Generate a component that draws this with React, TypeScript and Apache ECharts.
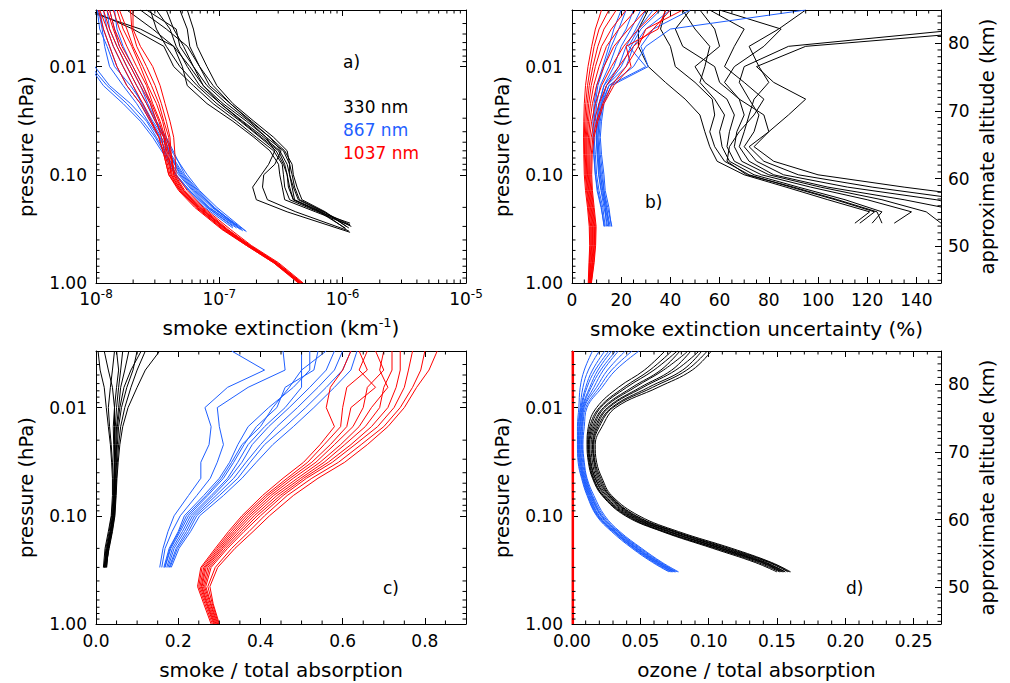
import React, { useEffect, useRef } from 'react';
import * as echarts from 'echarts';

const FONT = '"DejaVu Sans", "Liberation Sans", sans-serif';
const INK = '#000000';
const C330 = '#000000';
const C867 = '#1f5fff';
const C1037 = '#ff0000';

// ---------------- axis ranges & tick lists ----------------
const P_MIN = 0.003;
const P_MAX = 1.0;
const ALT_MIN = 44.6;
const ALT_MAX = 84.9;
const P_MINOR = [0.004, 0.005, 0.006, 0.007, 0.008, 0.009, 0.02, 0.03, 0.04, 0.05, 0.06, 0.07, 0.08, 0.09, 0.2, 0.3, 0.4, 0.5, 0.6, 0.7, 0.8, 0.9];
const EXT_MINOR = [2e-8, 3e-8, 4e-8, 5e-8, 6e-8, 7e-8, 8e-8, 9e-8, 2e-7, 3e-7, 4e-7, 5e-7, 6e-7, 7e-7, 8e-7, 9e-7, 2e-6, 3e-6, 4e-6, 5e-6, 6e-6, 7e-6, 8e-6, 9e-6];
const UNC_MINOR = [5, 10, 15, 25, 30, 35, 45, 50, 55, 65, 70, 75, 85, 90, 95, 105, 110, 115, 125, 130, 135, 145];
const RATIO_MINOR = [0.05, 0.1, 0.15, 0.25, 0.3, 0.35, 0.45, 0.5, 0.55, 0.65, 0.7, 0.75, 0.85];
const OZONE_MINOR = [0.01, 0.02, 0.03, 0.04, 0.06, 0.07, 0.08, 0.09, 0.11, 0.12, 0.13, 0.14, 0.16, 0.17, 0.18, 0.19, 0.21, 0.22, 0.23, 0.24, 0.26];
const ALT_MINOR = [45, 46, 47, 48, 49, 51, 52, 53, 54, 55, 56, 57, 58, 59, 61, 62, 63, 64, 65, 66, 67, 68, 69, 71, 72, 73, 74, 75, 76, 77, 78, 79, 81, 82, 83, 84];

// ---------------- panel a: smoke extinction, log10(km^-1) ----------------
const A_P330 = [0.003, 0.0045, 0.0065, 0.01, 0.015, 0.022, 0.032, 0.045, 0.06, 0.08, 0.1, 0.13, 0.17, 0.22, 0.3];
const A_330_PEND = [0.29, 0.28, 0.3, 0.29, 0.31, 0.3, 0.32, 0.34, 0.33, 0.31];
const A_330_LOG = [
  [-8.10, -7.64, -7.37, -7.30, -7.26, -7.10, -6.89, -6.72, -6.59, -6.52, -6.51, -6.49, -6.47, -6.22, -5.95],
  [-8.05, -7.70, -7.45, -7.37, -7.21, -7.05, -6.86, -6.70, -6.56, -6.49, -6.48, -6.47, -6.43, -6.20, -5.94],
  [-7.56, -7.51, -7.43, -7.32, -7.18, -7.02, -6.83, -6.67, -6.54, -6.48, -6.45, -6.44, -6.40, -6.18, -5.93],
  [-7.51, -7.40, -7.35, -7.26, -7.16, -6.99, -6.81, -6.64, -6.51, -6.45, -6.43, -6.40, -6.36, -6.16, -5.94],
  [-7.43, -7.37, -7.29, -7.21, -7.13, -6.97, -6.78, -6.62, -6.48, -6.43, -6.41, -6.39, -6.35, -6.15, -5.95],
  [-7.32, -7.26, -7.24, -7.16, -7.08, -6.91, -6.75, -6.59, -6.47, -6.41, -6.40, -6.37, -6.33, -6.14, -5.97],
  [-7.26, -7.21, -7.18, -7.10, -7.02, -6.89, -6.72, -6.56, -6.45, -6.43, -6.43, -6.41, -6.39, -6.17, -5.97],
  [-7.59, -7.35, -7.32, -7.21, -7.10, -6.94, -6.76, -6.62, -6.55, -6.60, -6.66, -6.73, -6.70, -6.45, -5.94],
  [-7.64, -7.43, -7.26, -7.16, -7.05, -6.91, -6.74, -6.59, -6.50, -6.55, -6.64, -6.65, -6.61, -6.38, -5.95],
  [-7.75, -7.54, -7.37, -7.24, -7.13, -6.99, -6.82, -6.66, -6.52, -6.47, -6.45, -6.43, -6.40, -6.19, -5.98],
];
const A_P867 = [0.003, 0.0045, 0.0065, 0.01, 0.015, 0.022, 0.032, 0.045, 0.065, 0.1, 0.14, 0.2, 0.32];
const A_867_PEND = [0.31, 0.32, 0.33, 0.32, 0.3, 0.29, 0.3, 0.31, 0.33, 0.335];
const A_867_LOG = [
  [-7.97, -7.94, -7.89, -7.83, -7.75, -7.64, -7.56, -7.48, -7.43, -7.35, -7.24, -7.10, -6.86],
  [-7.91, -7.89, -7.83, -7.75, -7.67, -7.59, -7.52, -7.45, -7.40, -7.32, -7.21, -7.08, -6.83],
  [-7.85, -7.83, -7.78, -7.70, -7.62, -7.56, -7.51, -7.43, -7.36, -7.28, -7.17, -7.04, -6.81],
  [-7.99, -7.97, -7.91, -7.85, -7.72, -7.62, -7.54, -7.45, -7.39, -7.29, -7.18, -7.05, -6.82],
  [-7.98, -7.95, -7.93, -7.89, -7.78, -7.67, -7.58, -7.49, -7.41, -7.31, -7.20, -7.06, -6.85],
  [-8.10, -8.08, -8.05, -8.01, -7.89, -7.72, -7.59, -7.51, -7.43, -7.33, -7.22, -7.09, -6.87],
  [-8.13, -8.10, -8.08, -8.04, -7.91, -7.75, -7.62, -7.52, -7.44, -7.35, -7.24, -7.10, -6.89],
  [-8.16, -8.13, -8.09, -8.05, -7.94, -7.78, -7.64, -7.54, -7.45, -7.36, -7.25, -7.12, -6.89],
  [-7.94, -7.91, -7.86, -7.78, -7.70, -7.63, -7.55, -7.47, -7.40, -7.30, -7.19, -7.05, -6.79],
  [-7.89, -7.85, -7.81, -7.72, -7.64, -7.58, -7.51, -7.44, -7.37, -7.26, -7.16, -7.02, -6.78],
];
const A_P1037 = [0.003, 0.0045, 0.0065, 0.01, 0.015, 0.022, 0.032, 0.045, 0.065, 0.1, 0.14, 0.2, 0.32, 0.45, 0.65, 1.0];
const A_1037_LOG = [
  [-7.97, -7.91, -7.86, -7.78, -7.70, -7.62, -7.55, -7.49, -7.45, -7.41, -7.33, -7.20, -6.98, -6.78, -6.56, -6.36],
  [-7.91, -7.86, -7.81, -7.72, -7.64, -7.56, -7.51, -7.47, -7.44, -7.40, -7.32, -7.18, -6.97, -6.77, -6.55, -6.35],
  [-7.86, -7.81, -7.75, -7.67, -7.59, -7.54, -7.48, -7.44, -7.41, -7.39, -7.31, -7.17, -6.95, -6.76, -6.55, -6.34],
  [-7.81, -7.75, -7.70, -7.62, -7.55, -7.49, -7.45, -7.41, -7.40, -7.37, -7.29, -7.16, -6.94, -6.76, -6.54, -6.34],
  [-7.72, -7.71, -7.67, -7.59, -7.52, -7.47, -7.43, -7.40, -7.39, -7.36, -7.28, -7.14, -6.93, -6.75, -6.53, -6.33],
  [-7.70, -7.70, -7.64, -7.54, -7.48, -7.44, -7.40, -7.37, -7.36, -7.35, -7.26, -7.13, -6.91, -6.74, -6.52, -6.32],
  [-7.98, -7.94, -7.89, -7.83, -7.75, -7.64, -7.56, -7.49, -7.45, -7.41, -7.32, -7.19, -6.97, -6.78, -6.56, -6.35],
  [-7.94, -7.89, -7.83, -7.75, -7.67, -7.59, -7.52, -7.45, -7.43, -7.39, -7.31, -7.18, -6.96, -6.77, -6.55, -6.35],
  [-7.89, -7.85, -7.79, -7.70, -7.62, -7.55, -7.49, -7.45, -7.42, -7.38, -7.30, -7.16, -6.95, -6.76, -6.54, -6.34],
  [-7.83, -7.78, -7.71, -7.64, -7.58, -7.51, -7.46, -7.43, -7.39, -7.37, -7.29, -7.15, -6.94, -6.75, -6.54, -6.33],
];

// ---------------- panel b: smoke extinction uncertainty (%) ----------------
const B_P330 = [0.003, 0.0045, 0.0065, 0.01, 0.014, 0.02, 0.028, 0.04, 0.055, 0.075, 0.1, 0.13, 0.17, 0.22, 0.28];
const B_330 = [
  [31, 27, 27, 31, 38, 46, 52, 54, 56, 59, 70, 87, 104, 121, 115],
  [38, 36, 40, 42, 50, 57, 58, 56, 58, 62, 72, 89, 107, 123, 117],
  [45, 50, 56, 54, 52, 58, 62, 60, 61, 64, 74, 92, 111, 126, 122],
  [52, 58, 60, 50, 54, 63, 66, 64, 63, 66, 77, 97, 120, 138, 131],
  [60, 85, 78, 66, 62, 68, 70, 67, 66, 69, 80, 101, 126, 144, 150],
  [95, 84, 72, 76, 80, 74, 72, 70, 68, 72, 82, 104, 135, 160, 170],
  [170, 180, 95, 75, 82, 95, 88, 80, 74, 82, 100, 135, 175, 200, 200],
  [180, 160, 88, 70, 68, 72, 76, 74, 70, 75, 86, 112, 148, 170, 180],
  [48, 42, 45, 58, 60, 68, 78, 80, 72, 78, 92, 122, 160, 180, 180],
  [56, 70, 66, 62, 70, 78, 74, 68, 64, 63, 71, 90, 108, 124, 126],
];
const B_P867 = [0.003, 0.0045, 0.0065, 0.01, 0.015, 0.022, 0.032, 0.045, 0.065, 0.1, 0.14, 0.2, 0.3];
const B_867 = [
  [95, 40, 30, 25, 15, 12, 11, 10.5, 11, 12, 13, 14, 15.5],
  [48, 33, 28, 31, 16, 13, 12, 11.5, 12, 13, 13.5, 15, 16],
  [30, 26, 22, 19, 13, 11, 10, 10, 10.5, 11, 12, 13.5, 14],
  [36, 28, 24, 20, 14, 12, 11, 10.5, 11, 11.5, 12.5, 14, 15],
  [25, 22, 18, 15, 11.5, 10, 9.5, 9, 9.5, 10, 11, 12.5, 13.5],
  [22, 19, 16, 13, 10.5, 9.5, 9, 8.8, 9, 9.5, 10.5, 12, 13],
  [40, 30, 25, 22, 14, 11.5, 10.5, 10, 10.5, 11.5, 12.5, 13.5, 15],
  [28, 24, 20, 17, 13, 11, 10.2, 9.8, 10.2, 10.8, 11.8, 13, 14.5],
  [33, 27, 23, 30, 15, 12.5, 11.5, 11, 11.5, 12.5, 13, 14.5, 16.2],
  [20, 17, 15, 12.5, 10, 9, 8.5, 8.5, 8.8, 9.5, 10.2, 11.8, 13.2],
];
const B_P1037 = [0.003, 0.0045, 0.0065, 0.01, 0.015, 0.022, 0.032, 0.045, 0.065, 0.1, 0.14, 0.2, 0.3, 0.45, 0.65, 1.0];
const B_1037 = [
  [12, 9.5, 8, 6.5, 5.5, 5, 4.8, 4.7, 4.8, 5, 5.5, 6.3, 7, 7.2, 6.9, 6.6],
  [15, 11, 9, 7.5, 6.3, 5.6, 5.2, 5, 5.1, 5.4, 5.9, 6.6, 7.3, 7.4, 7.1, 6.8],
  [18, 13, 10.5, 8.5, 7, 6.2, 5.7, 5.4, 5.4, 5.7, 6.2, 6.9, 7.6, 7.7, 7.3, 7.0],
  [22, 16, 12, 9.5, 7.8, 6.8, 6.2, 5.8, 5.8, 6.0, 6.5, 7.2, 8.0, 8.0, 7.6, 7.1],
  [26, 19, 14, 11, 8.8, 7.5, 6.7, 6.2, 6.1, 6.3, 6.8, 7.5, 8.3, 8.3, 7.8, 7.3],
  [30, 23, 17, 13, 10, 8.3, 7.3, 6.7, 6.5, 6.6, 7.1, 7.8, 8.6, 8.6, 8.1, 7.4],
  [35, 27, 21, 16, 12, 9.5, 8.0, 7.2, 6.9, 6.9, 7.4, 8.1, 8.9, 8.9, 8.3, 7.6],
  [40, 33, 25, 19, 14, 11, 9.0, 7.8, 7.3, 7.2, 7.7, 8.4, 9.2, 9.1, 8.5, 7.7],
  [45, 30, 27, 22, 16, 12.5, 10, 8.5, 7.8, 7.6, 8.0, 8.7, 9.5, 9.4, 8.8, 7.8],
  [38, 35, 22, 24, 17, 13, 10.5, 9, 8.2, 8.0, 8.3, 9.0, 9.8, 9.6, 9.0, 7.9],
];

// ---------------- panel c: smoke / total absorption ----------------
const C_P330 = [0.003, 0.0045, 0.0065, 0.01, 0.015, 0.022, 0.032, 0.045, 0.065, 0.1, 0.14, 0.2, 0.3];
const C_330 = [
  [0.005, 0.01, 0.02, 0.025, 0.03, 0.035, 0.038, 0.04, 0.04, 0.037, 0.03, 0.022, 0.018],
  [0.045, 0.04, 0.035, 0.03, 0.033, 0.037, 0.04, 0.042, 0.042, 0.038, 0.032, 0.024, 0.02],
  [0.05, 0.055, 0.05, 0.045, 0.042, 0.043, 0.044, 0.044, 0.043, 0.04, 0.034, 0.026, 0.022],
  [0.08, 0.07, 0.06, 0.055, 0.05, 0.048, 0.047, 0.046, 0.045, 0.042, 0.036, 0.028, 0.024],
  [0.1, 0.09, 0.075, 0.062, 0.055, 0.052, 0.05, 0.048, 0.047, 0.044, 0.038, 0.03, 0.026],
  [0.12, 0.1, 0.085, 0.07, 0.06, 0.055, 0.052, 0.05, 0.048, 0.045, 0.039, 0.031, 0.025],
  [0.155, 0.12, 0.1, 0.078, 0.065, 0.058, 0.054, 0.051, 0.049, 0.046, 0.04, 0.032, 0.023],
  [0.02, 0.03, 0.04, 0.045, 0.045, 0.045, 0.045, 0.045, 0.044, 0.041, 0.035, 0.027, 0.021],
  [0.065, 0.06, 0.055, 0.05, 0.047, 0.046, 0.046, 0.045, 0.044, 0.041, 0.035, 0.027, 0.019],
  [0.11, 0.085, 0.068, 0.058, 0.052, 0.05, 0.049, 0.047, 0.046, 0.043, 0.037, 0.029, 0.021],
];
const C_P867 = [0.003, 0.0045, 0.0065, 0.01, 0.015, 0.022, 0.032, 0.045, 0.065, 0.1, 0.14, 0.2, 0.3];
const C_867 = [
  [0.33, 0.41, 0.32, 0.265, 0.28, 0.275, 0.255, 0.255, 0.225, 0.19, 0.175, 0.163, 0.155],
  [0.455, 0.46, 0.37, 0.295, 0.30, 0.31, 0.295, 0.278, 0.245, 0.205, 0.185, 0.168, 0.16],
  [0.52, 0.52, 0.48, 0.42, 0.37, 0.345, 0.325, 0.30, 0.262, 0.215, 0.20, 0.178, 0.165],
  [0.54, 0.53, 0.46, 0.44, 0.39, 0.36, 0.335, 0.31, 0.272, 0.225, 0.205, 0.182, 0.168],
  [0.56, 0.50, 0.50, 0.46, 0.41, 0.37, 0.345, 0.32, 0.28, 0.23, 0.21, 0.186, 0.172],
  [0.58, 0.56, 0.52, 0.47, 0.42, 0.38, 0.355, 0.325, 0.285, 0.235, 0.215, 0.19, 0.175],
  [0.60, 0.58, 0.54, 0.49, 0.44, 0.40, 0.365, 0.335, 0.292, 0.24, 0.22, 0.195, 0.178],
  [0.62, 0.60, 0.56, 0.51, 0.46, 0.41, 0.375, 0.345, 0.30, 0.245, 0.225, 0.198, 0.18],
  [0.635, 0.62, 0.58, 0.53, 0.48, 0.43, 0.39, 0.355, 0.31, 0.252, 0.23, 0.202, 0.183],
  [0.50, 0.50, 0.47, 0.43, 0.40, 0.355, 0.33, 0.305, 0.268, 0.22, 0.202, 0.18, 0.167],
];
const C_P1037 = [0.003, 0.0045, 0.0065, 0.01, 0.015, 0.022, 0.032, 0.045, 0.065, 0.1, 0.14, 0.2, 0.3, 0.45, 0.65, 1.0];
const C_1037 = [
  [0.62, 0.60, 0.57, 0.56, 0.58, 0.545, 0.505, 0.455, 0.405, 0.355, 0.322, 0.29, 0.255, 0.247, 0.262, 0.28],
  [0.64, 0.66, 0.61, 0.60, 0.595, 0.555, 0.515, 0.465, 0.412, 0.36, 0.327, 0.294, 0.258, 0.25, 0.265, 0.283],
  [0.66, 0.64, 0.68, 0.62, 0.61, 0.57, 0.525, 0.472, 0.418, 0.366, 0.332, 0.298, 0.262, 0.253, 0.268, 0.286],
  [0.68, 0.70, 0.66, 0.65, 0.625, 0.58, 0.535, 0.48, 0.425, 0.372, 0.337, 0.302, 0.265, 0.256, 0.27, 0.288],
  [0.70, 0.69, 0.71, 0.67, 0.64, 0.595, 0.545, 0.49, 0.432, 0.378, 0.342, 0.306, 0.268, 0.258, 0.272, 0.29],
  [0.72, 0.72, 0.70, 0.69, 0.655, 0.605, 0.555, 0.498, 0.44, 0.385, 0.348, 0.31, 0.272, 0.261, 0.275, 0.292],
  [0.74, 0.74, 0.73, 0.71, 0.67, 0.62, 0.565, 0.505, 0.448, 0.392, 0.354, 0.315, 0.276, 0.264, 0.278, 0.294],
  [0.77, 0.76, 0.75, 0.725, 0.685, 0.63, 0.575, 0.512, 0.455, 0.40, 0.36, 0.32, 0.28, 0.267, 0.28, 0.296],
  [0.80, 0.79, 0.77, 0.74, 0.70, 0.645, 0.59, 0.525, 0.465, 0.41, 0.372, 0.33, 0.29, 0.272, 0.283, 0.298],
  [0.83, 0.81, 0.78, 0.75, 0.71, 0.66, 0.605, 0.54, 0.48, 0.422, 0.382, 0.338, 0.296, 0.277, 0.285, 0.3],
];

// ---------------- panel d: ozone / total absorption ----------------
const D_P330 = [0.003, 0.0045, 0.0065, 0.01, 0.015, 0.022, 0.032, 0.045, 0.065, 0.1, 0.14, 0.2, 0.27, 0.33];
const D_330 = [
  [0.068, 0.053, 0.034, 0.018, 0.012, 0.011, 0.012, 0.015, 0.022, 0.039, 0.066, 0.103, 0.134, 0.150],
  [0.073, 0.057, 0.038, 0.020, 0.013, 0.0115, 0.0125, 0.0155, 0.0225, 0.040, 0.067, 0.105, 0.136, 0.152],
  [0.077, 0.060, 0.040, 0.021, 0.014, 0.012, 0.013, 0.016, 0.023, 0.041, 0.068, 0.106, 0.138, 0.153],
  [0.079, 0.065, 0.044, 0.023, 0.015, 0.0125, 0.0135, 0.017, 0.024, 0.042, 0.070, 0.108, 0.139, 0.154],
  [0.085, 0.067, 0.046, 0.024, 0.016, 0.013, 0.014, 0.017, 0.025, 0.043, 0.071, 0.109, 0.140, 0.155],
  [0.087, 0.073, 0.050, 0.026, 0.017, 0.014, 0.015, 0.018, 0.026, 0.044, 0.072, 0.110, 0.141, 0.156],
  [0.093, 0.076, 0.052, 0.027, 0.018, 0.015, 0.016, 0.019, 0.027, 0.045, 0.074, 0.112, 0.142, 0.156],
  [0.095, 0.081, 0.056, 0.029, 0.019, 0.0155, 0.0165, 0.020, 0.0275, 0.046, 0.075, 0.113, 0.144, 0.158],
  [0.099, 0.084, 0.059, 0.030, 0.020, 0.016, 0.017, 0.021, 0.028, 0.047, 0.076, 0.115, 0.145, 0.159],
  [0.102, 0.088, 0.063, 0.032, 0.022, 0.017, 0.018, 0.022, 0.029, 0.049, 0.078, 0.117, 0.146, 0.160],
];
const D_P867 = [0.003, 0.0045, 0.0065, 0.01, 0.015, 0.022, 0.032, 0.045, 0.065, 0.1, 0.14, 0.2, 0.27, 0.33];
const D_867 = [
  [0.015, 0.009, 0.006, 0.005, 0.004, 0.004, 0.0045, 0.007, 0.011, 0.018, 0.029, 0.044, 0.059, 0.071],
  [0.020, 0.012, 0.008, 0.006, 0.0045, 0.0043, 0.005, 0.0075, 0.0115, 0.0185, 0.030, 0.045, 0.060, 0.072],
  [0.024, 0.015, 0.010, 0.0065, 0.005, 0.0047, 0.0055, 0.008, 0.012, 0.019, 0.0305, 0.0455, 0.061, 0.073],
  [0.027, 0.017, 0.011, 0.007, 0.0055, 0.005, 0.006, 0.0083, 0.0125, 0.0195, 0.031, 0.046, 0.0615, 0.0735],
  [0.029, 0.019, 0.013, 0.0075, 0.006, 0.0055, 0.0063, 0.0087, 0.013, 0.020, 0.0315, 0.047, 0.062, 0.074],
  [0.032, 0.021, 0.014, 0.008, 0.0065, 0.006, 0.0068, 0.009, 0.0135, 0.021, 0.032, 0.0475, 0.063, 0.075],
  [0.034, 0.023, 0.016, 0.0085, 0.007, 0.0065, 0.0072, 0.0095, 0.014, 0.0215, 0.033, 0.048, 0.0635, 0.0755],
  [0.039, 0.026, 0.018, 0.009, 0.0075, 0.007, 0.0078, 0.010, 0.0145, 0.022, 0.0335, 0.049, 0.064, 0.076],
  [0.044, 0.029, 0.020, 0.010, 0.008, 0.0075, 0.0085, 0.0105, 0.015, 0.023, 0.034, 0.050, 0.065, 0.077],
  [0.049, 0.032, 0.022, 0.011, 0.009, 0.008, 0.009, 0.011, 0.016, 0.024, 0.035, 0.051, 0.066, 0.078],
];
const D_P1037 = [0.003, 1.0];
const D_1037 = [[0.0006, 0.0006]];

// ---------------- helpers ----------------
const baseLine = { show: true, onZero: false, lineStyle: { color: INK, width: 1 } };
const majorTick = { show: true, inside: true, length: 6, lineStyle: { color: INK, width: 1 } };
const labelFont = { color: INK, fontFamily: FONT, fontSize: 17 };

function pAxis(gridIndex: number, position: string, labels: boolean): any {
  const ax: any = {
    type: 'log', logBase: 10, gridIndex, position, min: P_MIN, max: P_MAX, inverse: true,
    axisLine: baseLine, axisTick: majorTick, splitLine: { show: false },
    axisLabel: labels
      ? { show: true, margin: 9, ...labelFont, showMinLabel: false, showMaxLabel: true, formatter: (v: number) => v.toFixed(2) }
      : { show: false },
  };
  if (labels) {
    ax.name = 'pressure (hPa)';
    ax.nameLocation = 'middle';
    ax.nameGap = 60;
    ax.nameRotate = 90;
    ax.nameTextStyle = { color: INK, fontFamily: FONT, fontSize: 19.5 };
  }
  return ax;
}

function altAxis(gridIndex: number): any {
  return {
    type: 'value', gridIndex, position: 'right', min: ALT_MIN, max: ALT_MAX,
    axisLine: baseLine, axisTick: majorTick, splitLine: { show: false },
    axisLabel: { show: true, margin: 7, ...labelFont, showMinLabel: false, showMaxLabel: false, formatter: (v: number) => String(Math.round(v)) },
    name: 'approximate altitude (km)', nameLocation: 'middle', nameGap: 36, nameRotate: 90,
    nameTextStyle: { color: INK, fontFamily: FONT, fontSize: 19.5 },
  };
}

const supRich = {
  b: { fontFamily: FONT, fontSize: 17, lineHeight: 22, color: INK },
  s: { fontFamily: FONT, fontSize: 12, lineHeight: 12, verticalAlign: 'top', color: INK },
};

function xLog(gridIndex: number, position: string, labels: boolean): any {
  const ax: any = {
    type: 'log', logBase: 10, gridIndex, position, min: 1e-8, max: 1e-5,
    axisLine: baseLine, axisTick: majorTick, splitLine: { show: false },
    axisLabel: labels
      ? { show: true, margin: 5, formatter: (v: number) => `{b|10}{s|${Math.round(Math.log10(v))}}`, rich: supRich }
      : { show: false },
  };
  if (labels) {
    ax.name = '{n|smoke extinction (km}{s|-1}{n|)}';
    ax.nameLocation = 'middle';
    ax.nameGap = 33;
    ax.nameTextStyle = {
      rich: {
        n: { fontFamily: FONT, fontSize: 20, lineHeight: 24, color: INK },
        s: { fontFamily: FONT, fontSize: 13, lineHeight: 13, verticalAlign: 'top', color: INK },
      },
    };
  }
  return ax;
}

function xVal(gridIndex: number, position: string, max: number, interval: number, digits: number, name: string | null): any {
  const ax: any = {
    type: 'value', gridIndex, position, min: 0, max, interval,
    axisLine: baseLine, axisTick: majorTick, splitLine: { show: false },
    axisLabel: name
      ? { show: true, margin: 8, ...labelFont, showMinLabel: true, showMaxLabel: false, formatter: (v: number) => v.toFixed(digits) }
      : { show: false },
  };
  if (name) {
    ax.name = name;
    ax.nameLocation = 'middle';
    ax.nameGap = 36;
    ax.nameTextStyle = { color: INK, fontFamily: FONT, fontSize: 20 };
  }
  return ax;
}

// ps: shared pressure levels; pend (optional): per-line pressure of the last point
function lineSet(rows: number[][], ps: number[], color: string, xi: number, yi: number, opts: any = {}): any[] {
  const { fromLog = false, smooth = false, width = 1, pend = null } = opts;
  return rows.map((row, k) => {
    const pr = pend ? [...ps.slice(0, -1), pend[k]] : ps;
    return {
      type: 'line', xAxisIndex: xi, yAxisIndex: yi, silent: true, z: 3,
      data: row.map((v, i) => [fromLog ? Math.pow(10, v) : v, pr[i]]),
      symbol: 'none', showSymbol: false, smooth,
      lineStyle: { color, width }, itemStyle: { color },
    };
  });
}

function tickSet(xi: number, yi: number, items: number[][], kind: 'x' | 'y', sides: string[]): any {
  return {
    type: 'custom', xAxisIndex: xi, yAxisIndex: yi, silent: true, z: 5, clip: false,
    data: items,
    renderItem: (params: any, api: any) => {
      const cs = params.coordSys;
      const pt = api.coord([api.value(0), api.value(1)]);
      const L = 3.5;
      const st = { stroke: INK, lineWidth: 1 };
      const children: any[] = [];
      if (kind === 'y') {
        const y = pt[1];
        if (sides.includes('left')) children.push({ type: 'line', shape: { x1: cs.x, y1: y, x2: cs.x + L, y2: y }, style: st });
        if (sides.includes('right')) children.push({ type: 'line', shape: { x1: cs.x + cs.width, y1: y, x2: cs.x + cs.width - L, y2: y }, style: st });
      } else {
        const x = pt[0];
        if (sides.includes('bottom')) children.push({ type: 'line', shape: { x1: x, y1: cs.y + cs.height, x2: x, y2: cs.y + cs.height - L }, style: st });
        if (sides.includes('top')) children.push({ type: 'line', shape: { x1: x, y1: cs.y, x2: x, y2: cs.y + L }, style: st });
      }
      return { type: 'group', children };
    },
  };
}

function txt(x: number, y: number, text: string, color: string): any {
  return { type: 'text', x, y, silent: true, style: { text, fill: color, fontFamily: FONT, fontSize: 17, verticalAlign: 'middle', align: 'left' } };
}

function buildOption(): any {
  const grids = [
    { left: 96, top: 10, width: 370, height: 273 },
    { left: 572, top: 10, width: 369, height: 273 },
    { left: 96, top: 351, width: 370, height: 273 },
    { left: 572, top: 351, width: 369, height: 273 },
  ].map((g) => ({ ...g, show: false, containLabel: false, outerBoundsMode: 'none' }));

  const xAxis = [
    xLog(0, 'bottom', true),
    xLog(0, 'top', false),
    xVal(1, 'bottom', 150, 20, 0, 'smoke extinction uncertainty (%)'),
    xVal(1, 'top', 150, 20, 0, null),
    xVal(2, 'bottom', 0.9, 0.2, 1, 'smoke / total absorption'),
    xVal(2, 'top', 0.9, 0.2, 1, null),
    xVal(3, 'bottom', 0.27, 0.05, 2, 'ozone / total absorption'),
    xVal(3, 'top', 0.27, 0.05, 2, null),
  ];
  const yAxis = [
    pAxis(0, 'left', true),
    pAxis(0, 'right', false),
    pAxis(1, 'left', true),
    altAxis(1),
    pAxis(2, 'left', true),
    pAxis(2, 'right', false),
    pAxis(3, 'left', true),
    altAxis(3),
  ];

  const series: any[] = [
    ...lineSet(A_330_LOG, A_P330, C330, 0, 0, { fromLog: true, pend: A_330_PEND }),
    ...lineSet(A_867_LOG, A_P867, C867, 0, 0, { fromLog: true, pend: A_867_PEND }),
    ...lineSet(A_1037_LOG, A_P1037, C1037, 0, 0, { fromLog: true }),
    ...lineSet(B_330, B_P330, C330, 2, 2),
    ...lineSet(B_867, B_P867, C867, 2, 2),
    ...lineSet(B_1037, B_P1037, C1037, 2, 2),
    ...lineSet(C_330, C_P330, C330, 4, 4),
    ...lineSet(C_867, C_P867, C867, 4, 4),
    ...lineSet(C_1037, C_P1037, C1037, 4, 4),
    ...lineSet(D_330, D_P330, C330, 6, 6, { smooth: 0.4 }),
    ...lineSet(D_867, D_P867, C867, 6, 6, { smooth: 0.4 }),
    ...lineSet(D_1037, D_P1037, C1037, 6, 6, { width: 2.5 }),
    // minor ticks
    tickSet(0, 0, P_MINOR.map((p) => [1e-8, p]), 'y', ['left', 'right']),
    tickSet(0, 0, EXT_MINOR.map((x) => [x, 1]), 'x', ['bottom', 'top']),
    tickSet(2, 2, P_MINOR.map((p) => [0, p]), 'y', ['left']),
    tickSet(2, 2, UNC_MINOR.map((x) => [x, 1]), 'x', ['bottom', 'top']),
    tickSet(2, 3, ALT_MINOR.map((a) => [0, a]), 'y', ['right']),
    tickSet(4, 4, P_MINOR.map((p) => [0, p]), 'y', ['left', 'right']),
    tickSet(4, 4, RATIO_MINOR.map((x) => [x, 1]), 'x', ['bottom', 'top']),
    tickSet(6, 6, P_MINOR.map((p) => [0, p]), 'y', ['left']),
    tickSet(6, 6, OZONE_MINOR.map((x) => [x, 1]), 'x', ['bottom', 'top']),
    tickSet(6, 7, ALT_MINOR.map((a) => [0, a]), 'y', ['right']),
  ];

  const graphic = [
    txt(343, 62, 'a)', INK),
    txt(343, 107, '330 nm', C330),
    txt(343, 130, '867 nm', C867),
    txt(343, 153, '1037 nm', C1037),
    txt(645, 202, 'b)', INK),
    txt(383, 588, 'c)', INK),
    txt(846, 588, 'd)', INK),
  ];

  return {
    animation: false,
    backgroundColor: '#ffffff',
    textStyle: { fontFamily: FONT },
    grid: grids,
    xAxis,
    yAxis,
    series,
    graphic,
  };
}

export default function App() {
  const ref = useRef<HTMLDivElement>(null);
  useEffect(() => {
    if (!ref.current) return;
    const chart = echarts.init(ref.current, null, { renderer: 'svg' });
    chart.setOption(buildOption());
    return () => chart.dispose();
  }, []);
  return (
    <div
      ref={ref}
      style={{ position: 'fixed', left: 0, top: 0, width: 1010, height: 683, background: '#ffffff' }}
    />
  );
}
